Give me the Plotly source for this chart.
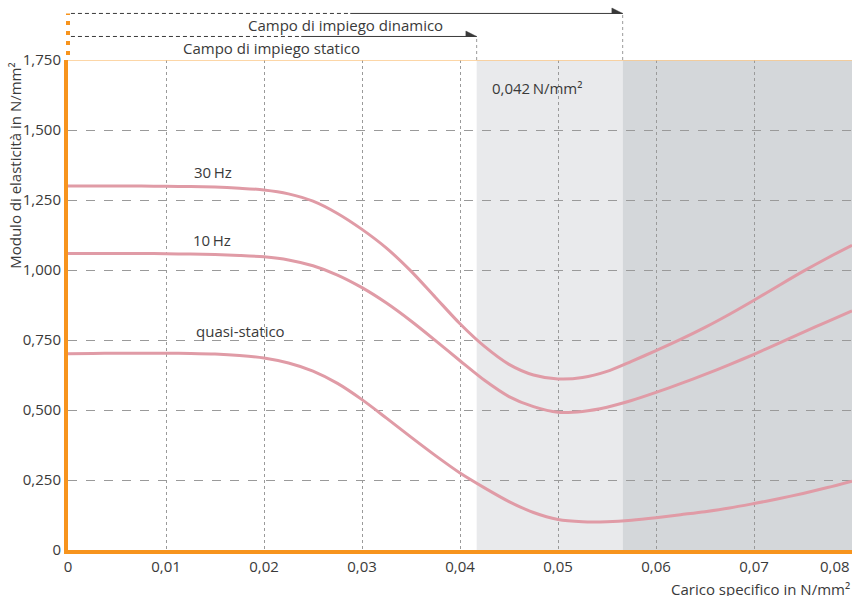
import plotly.graph_objects as go

# ---------------- data ----------------
carico = [0, 0.0025, 0.005, 0.0075, 0.01, 0.0125, 0.015, 0.0175, 0.02, 0.0225, 0.025,
          0.0275, 0.03, 0.0325, 0.035, 0.0375, 0.04, 0.0425, 0.045, 0.0475, 0.05,
          0.0525, 0.055, 0.0575, 0.06, 0.0625, 0.065, 0.0675, 0.07, 0.0725, 0.075,
          0.0775, 0.08]
hz30 = [1.300, 1.300, 1.300, 1.300, 1.299, 1.298, 1.296, 1.292, 1.286, 1.272, 1.246,
        1.202, 1.145, 1.078, 0.996, 0.902, 0.808, 0.727, 0.663, 0.625, 0.611,
        0.616, 0.638, 0.674, 0.712, 0.752, 0.795, 0.842, 0.892, 0.944, 0.995,
        1.043, 1.088]
hz10 = [1.059, 1.059, 1.059, 1.059, 1.058, 1.057, 1.055, 1.052, 1.047, 1.036, 1.015,
        0.982, 0.937, 0.882, 0.818, 0.748, 0.676, 0.606, 0.548, 0.512, 0.492,
        0.495, 0.510, 0.534, 0.563, 0.594, 0.627, 0.662, 0.699, 0.738, 0.777,
        0.816, 0.854]
quasi = [0.701, 0.702, 0.703, 0.703, 0.703, 0.702, 0.700, 0.695, 0.686, 0.668, 0.639,
         0.595, 0.537, 0.471, 0.403, 0.337, 0.275, 0.222, 0.173, 0.134, 0.109,
         0.101, 0.101, 0.106, 0.115, 0.126, 0.137, 0.150, 0.166, 0.183, 0.202,
         0.223, 0.246]

series_names = ["30\u2009Hz", "10\u2009Hz", "quasi-statico"]

x_tickvals = [0, 0.01, 0.02, 0.03, 0.04, 0.05, 0.06, 0.07, 0.08]
x_ticktext = ["0", "0,01", "0,02", "0,03", "0,04", "0,05", "0,06", "0,07", "0,08"]
y_tickvals = [0, 0.25, 0.5, 0.75, 1.0, 1.25, 1.5, 1.75]
y_ticktext = ["0", "0,250", "0,500", "0,750", "1,000", "1,250", "1,500", "1,750"]

limite_statico = 0.0417
limite_dinamico = 0.0566
x_max = 0.08
y_max = 1.75

# ---------------- style ----------------
ORANGE = "#f7941d"
PINK = "#e09ba6"
TXT = "#3a3a3a"
GRID = "#9a9a9a"
FONT = "Open Sans"

fig = go.Figure()
for ys, nm in zip([hz30, hz10, quasi], series_names):
    fig.add_trace(go.Scatter(x=carico, y=ys, mode="lines", name=nm,
                             line=dict(color=PINK, width=3, shape="spline", smoothing=0.8),
                             hoverinfo="skip"))

shapes = []
shapes.append(dict(type="rect", xref="x", yref="y", x0=limite_statico, x1=limite_dinamico,
                   y0=0, y1=y_max, fillcolor="#e9eaec", line_width=0, layer="below"))
shapes.append(dict(type="rect", xref="x", yref="y", x0=limite_dinamico, x1=x_max,
                   y0=0, y1=y_max, fillcolor="#d4d7da", line_width=0, layer="below"))
shapes.append(dict(type="line", xref="paper", yref="y", x0=0, x1=1, y0=y_max, y1=y_max,
                   line=dict(color="#fbc98a", width=1.5)))

y_din = 1.095
y_sta = 1.048
shapes.append(dict(type="line", xref="x", yref="paper", x0=0.0003, x1=0.0288, y0=y_din, y1=y_din,
                   line=dict(color=TXT, width=1, dash="4px,3px")))
shapes.append(dict(type="line", xref="x", yref="paper", x0=0.0288, x1=limite_dinamico, y0=y_din, y1=y_din,
                   line=dict(color=TXT, width=1)))
shapes.append(dict(type="line", xref="x", yref="paper", x0=0.0003, x1=0.0238, y0=y_sta, y1=y_sta,
                   line=dict(color=TXT, width=1, dash="4px,3px")))
shapes.append(dict(type="line", xref="x", yref="paper", x0=0.0238, x1=limite_statico, y0=y_sta, y1=y_sta,
                   line=dict(color=TXT, width=1)))
for xv, yv in [(limite_statico, y_sta), (limite_dinamico, y_din)]:
    shapes.append(dict(type="line", xref="x", yref="paper", x0=xv, x1=xv, y0=1.0, y1=yv,
                       line=dict(color=GRID, width=1, dash="dot")))
    dx = 0.0011
    dy = 0.011
    shapes.append(dict(type="path", xref="x", yref="paper",
                       path=f"M {xv - dx} {yv} L {xv} {yv} L {xv - dx} {yv + dy} Z",
                       fillcolor=TXT, line=dict(color=TXT, width=0.5)))
shapes.append(dict(type="line", xref="paper", yref="paper", x0=0, x1=0, y0=1.01, y1=1.095,
                   line=dict(color=ORANGE, width=4, dash="4px,6px")))

LBL = dict(size=15, color=TXT, family=FONT)
annotations = [
    dict(text="Campo di impiego dinamico", xref="x", yref="paper", x=0.0283, y=1.071,
         yanchor="middle", showarrow=False, font=LBL),
    dict(text="Campo di impiego statico", xref="x", yref="paper", x=0.0208, y=1.024,
         yanchor="middle", showarrow=False, font=LBL),
    dict(text="30\u2009Hz", xref="x", yref="y", x=0.0148, y=1.349, showarrow=False, font=LBL),
    dict(text="10\u2009Hz", xref="x", yref="y", x=0.0147, y=1.106, showarrow=False, font=LBL),
    dict(text="quasi-statico", xref="x", yref="y", x=0.0176, y=0.781, showarrow=False, font=LBL),
    dict(text="0,042\u2009N/mm²", xref="x", yref="y", x=0.0431, y=1.649, showarrow=False,
         xanchor="left", font=LBL),
    dict(text="Modulo di elasticità in N/mm²", xref="paper", yref="paper", x=-0.0685, y=1.0,
         xanchor="center", yanchor="top", textangle=-90, showarrow=False, font=LBL),
    dict(text="Carico specifico in N/mm²", xref="paper", yref="paper", x=1.0, y=-0.079,
         xanchor="right", yanchor="middle", showarrow=False, font=LBL),
    dict(text=x_ticktext[-1], xref="x", yref="paper", x=x_tickvals[-1], y=-0.033,
         xanchor="right", yanchor="middle", showarrow=False,
         font=dict(size=15, color=TXT, family=FONT)),
]

fig.update_layout(
    width=852, height=596,
    margin=dict(l=68, r=0, t=60, b=46),
    paper_bgcolor="white", plot_bgcolor="white",
    showlegend=False,
    shapes=shapes, annotations=annotations,
    font=dict(family=FONT, size=15, color=TXT),
)
fig.update_xaxes(range=[0, x_max], tickvals=x_tickvals,
                 ticktext=x_ticktext[:-1] + [""],
                 showgrid=True, gridcolor=GRID, griddash="dot", gridwidth=1,
                 showline=True, linecolor=ORANGE, linewidth=4, zeroline=False,
                 ticks="", tickfont=dict(size=15, color=TXT, family=FONT))
fig.update_yaxes(range=[0, y_max], tickvals=y_tickvals, ticktext=y_ticktext,
                 showgrid=True, gridcolor=GRID, griddash="dash", gridwidth=1,
                 showline=True, linecolor=ORANGE, linewidth=4, zeroline=False,
                 ticks="", tickfont=dict(size=15, color=TXT, family=FONT))

fig.write_html("out.html", config={"displayModeBar": False},
               post_script="document.body.style.margin='0';document.body.style.overflow='hidden';")
